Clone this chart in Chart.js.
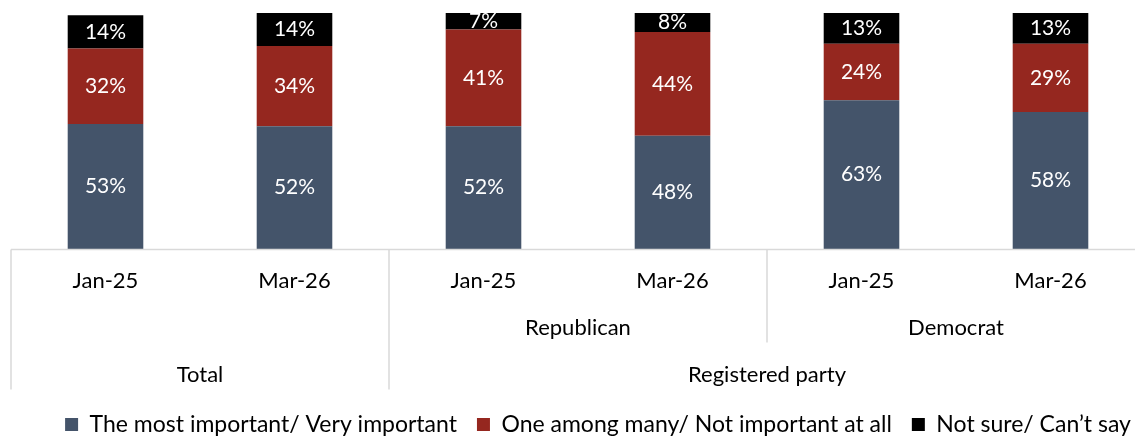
<!DOCTYPE html>
<html>
<head>
<meta charset="utf-8">
<script src="https://cdn.jsdelivr.net/npm/chart.js@4.4.1/dist/chart.umd.min.js"></script>
<style>
    html, body { margin: 0; padding: 0; background: #fff; overflow: hidden; }
    #wrap { width: 1196px; height: 436px; }
</style>
</head>
<body>
<div id="wrap"><canvas id="chart"></canvas></div>
<script>
// chart values
const periods = ['Jan-25', 'Mar-26', 'Jan-25', 'Mar-26', 'Jan-25', 'Mar-26'];
const subGroups = [null, null, 'Republican', 'Republican', 'Democrat', 'Democrat'];
const topGroups = ['Total', 'Total', 'Registered party', 'Registered party', 'Registered party', 'Registered party'];

const seriesNames = ['The most important/ Very important', 'One among many/ Not important at all', 'Not sure/ Can\u2019t say'];
const veryImportant = [53, 52, 52, 48, 63, 58];
const oneAmongMany = [32, 34, 41, 44, 24, 29];
const notSure = [14, 14, 7, 8, 13, 13];

const FONT = 'Lato, "Noto Sans", sans-serif';
const LINE = '#d9d9d9';

// white % labels in the middle of each segment
const segmentLabels = {
    id: 'segmentLabels',
    afterDatasetsDraw(chart) {
        const ctx = chart.ctx;
        const area = chart.chartArea;
        ctx.save();
        ctx.beginPath();
        ctx.rect(area.left, area.top, area.right - area.left, area.bottom - area.top);
        ctx.clip();
        ctx.fillStyle = '#fff';
        ctx.font = '21px ' + FONT;
        ctx.textAlign = 'center';
        ctx.textBaseline = 'middle';
        chart.data.datasets.forEach((ds, i) => {
            chart.getDatasetMeta(i).data.forEach((bar, j) => {
                ctx.fillText(ds.data[j] + '%', bar.x, (bar.y + bar.base) / 2);
            });
        });
        ctx.restore();
    }
};

// multi level category axis: frame lines + group labels
const groupAxis = {
    id: 'groupAxis',
    afterDraw(chart) {
        const ctx = chart.ctx;
        const x = chart.scales.x;
        const area = chart.chartArea;
        const step = x.getPixelForValue(1) - x.getPixelForValue(0);
        const edge = i => x.getPixelForValue(i) - step / 2;
        const y0 = area.bottom + 0.5;
        const yBottom = y0 + 140;
        const yMid = y0 + 93;

        ctx.save();
        ctx.strokeStyle = LINE;
        ctx.lineWidth = 1.5;
        ctx.beginPath();
        ctx.moveTo(edge(0), y0);
        ctx.lineTo(edge(periods.length), y0);
        ctx.stroke();

        // vertical separators
        for (let i = 0; i <= periods.length; i++) {
            let bottom = null;
            if (i === 0 || i === periods.length || topGroups[i] !== topGroups[i - 1]) bottom = yBottom;
            else if (subGroups[i] !== subGroups[i - 1]) bottom = yMid;
            if (bottom === null) continue;
            ctx.beginPath();
            ctx.moveTo(edge(i), y0);
            ctx.lineTo(edge(i), bottom);
            ctx.stroke();
        }

        ctx.fillStyle = '#000';
        ctx.font = '22px ' + FONT;
        ctx.textAlign = 'center';
        ctx.textBaseline = 'middle';
        const drawGroups = (groups, y) => {
            let start = 0;
            for (let i = 1; i <= groups.length; i++) {
                if (i === groups.length || groups[i] !== groups[start]) {
                    if (groups[start]) ctx.fillText(groups[start], (edge(start) + edge(i)) / 2, y);
                    start = i;
                }
            }
        };
        drawGroups(subGroups, 328);
        drawGroups(topGroups, 375);
        ctx.restore();
    }
};

const hiddenAxis = (pos, w) => ({
    axis: 'y',
    position: pos,
    display: true,
    min: 0,
    max: 100,
    stacked: true,
    grid: {display: false, drawTicks: false},
    border: {display: false},
    ticks: {display: false},
    afterFit(scale) { scale.width = w; }
});

new Chart(document.getElementById('chart'), {
    type: 'bar',
    data: {
        labels: periods,
        datasets: [
            {label: seriesNames[0], data: veryImportant, backgroundColor: '#44546a'},
            {label: seriesNames[1], data: oneAmongMany, backgroundColor: '#95271f'},
            {label: seriesNames[2], data: notSure, backgroundColor: '#000000'},
        ]
    },
    options: {
        responsive: true,
        maintainAspectRatio: false,
        animation: false,
        layout: {padding: {top: 13, left: 0, right: 0, bottom: -10}},
        datasets: {bar: {barPercentage: 0.4, categoryPercentage: 1, borderWidth: 0}},
        scales: {
            x: {
                stacked: true,
                grid: {display: false, drawTicks: false},
                border: {display: false},
                ticks: {color: '#000', font: {family: FONT, size: 22}, padding: 19, maxRotation: 0},
                afterFit(scale) { scale.height = 144; }
            },
            y: hiddenAxis('left', 11),
            yRight: hiddenAxis('right', 51)
        },
        plugins: {
            legend: {
                position: 'bottom',
                labels: {
                    color: '#000',
                    font: {family: FONT, size: 23},
                    boxWidth: 13,
                    boxHeight: 13,
                    padding: 20
                }
            },
            tooltip: {enabled: false}
        }
    },
    plugins: [segmentLabels, groupAxis]
});
</script>
</body>
</html>
